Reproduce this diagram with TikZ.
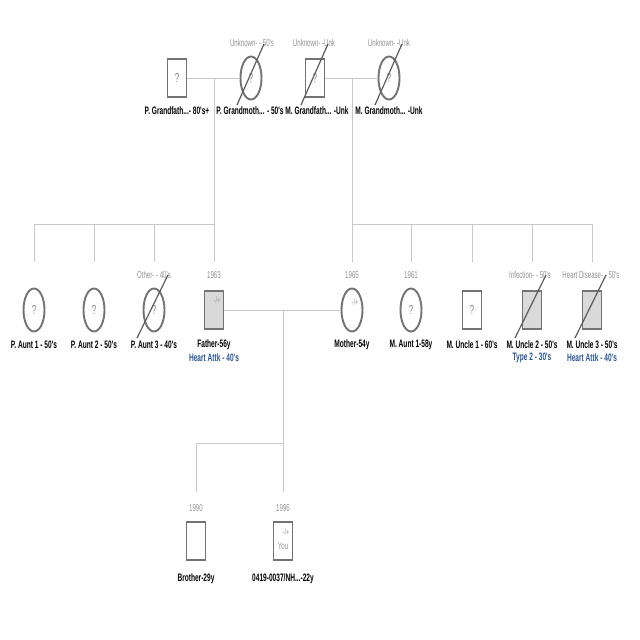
\documentclass[tikz,border=0pt]{standalone}
\usepackage{fontspec}
\setmainfont{Liberation Sans}
\newfontfamily\nf[FakeStretch=0.61]{Liberation Sans}
\usetikzlibrary{shapes.geometric}
\definecolor{connc}{HTML}{C8C8C8}
\definecolor{edgec}{HTML}{737373}
\definecolor{fillg}{HTML}{D9D9D9}
\definecolor{gtext}{HTML}{939393}
\definecolor{qtext}{HTML}{888888}
\definecolor{btext}{HTML}{2B5797}
\tikzset{
  malebox/.style={draw=edgec, line width=1.9pt, rectangle, minimum width=19pt, minimum height=38pt, inner sep=0pt, text=qtext, font=\nf\fontsize{13}{14}\selectfont},
  femalebox/.style={draw=edgec, line width=1.9pt, ellipse, minimum width=21pt, minimum height=43pt, inner sep=0pt, text=qtext, font=\nf\fontsize{13}{14}\selectfont},
  aff/.style={fill=fillg},
  namelab/.style={font=\nf\bfseries\fontsize{10.8}{12}\selectfont, text=black, inner sep=0pt},
  notelab/.style={font=\nf\fontsize{10}{12}\selectfont, text=gtext, inner sep=0pt},
  dxlab/.style={font=\nf\bfseries\fontsize{10.8}{12}\selectfont, text=btext, inner sep=0pt},
  smalllab/.style={font=\nf\fontsize{9}{10}\selectfont, text=gtext, inner sep=0pt},
  connline/.style={draw=connc, line width=0.9pt},
  slashline/.style={draw=edgec!80!black, line width=1.2pt},
}
\begin{document}
\begin{tikzpicture}[x=1pt,y=-1pt]
\fill[white] (0,0) rectangle (640,640);
\useasboundingbox (0,0) rectangle (640,640);

% ---------- coordinates for connectors ----------
\coordinate (pdesc) at (214,78);
\coordinate (pbarR) at (214,224);
\coordinate (pbarL) at (34,224);
\coordinate (mdesc) at (352,78);
\coordinate (mbarL) at (352,224);
\coordinate (mbarR) at (592,224);
\foreach \n/\x in {pa1/34,pa2/94,pa3/154,fa/214,mo/352,ma1/411,mu1/472,mu2/532,mu3/592}{
  \coordinate (\n bar) at (\x,224);
  \coordinate (\n end) at (\x,262);
}
\coordinate (cdesc) at (283,310);
\coordinate (cbarR) at (283,443);
\coordinate (cbarL) at (196,443);
\coordinate (brend) at (196,492);
\coordinate (youend) at (283,492);

% ---------- connectors ----------
\draw[connline] (pdesc) -- (faend);
\draw[connline] (pbarL) -- (pbarR);
\draw[connline] (mdesc) -- (moend);
\draw[connline] (mbarL) -- (mbarR);
\foreach \n in {pa1,pa2,pa3,ma1,mu1,mu2,mu3}{
  \draw[connline] (\n bar) -- (\n end);
}
\draw[connline] (cdesc) -- (youend);
\draw[connline] (cbarL) -- (cbarR);
\draw[connline] (cbarL) -- (brend);

% ---------- grandparents ----------
\node[malebox] (pgf) at (177,78) {?};
\node[femalebox] (pgm) at (251,78) {?};
\node[malebox] (mgf) at (315,78) {?};
\node[femalebox] (mgm) at (389,78) {?};
\draw[connline] (pgf.east) -- (pgm.west);
\draw[connline] (mgf.east) -- (mgm.west);

\node[namelab] (pgfl) at (177,111) {P. Grandfath...- 80's+};
\node[namelab] (pgml) at (250,111) {P. Grandmoth... - 50's};
\node[namelab] (mgfl) at (317,111) {M. Grandfath... -Unk};
\node[namelab] (mgml) at (389,111) {M. Grandmoth... -Unk};
\node[notelab] (pgmn) at (252,43) {Unknown- - 50's};
\node[notelab] (mgfn) at (314,43) {Unknown- -Unk};
\node[notelab] (mgmn) at (389,43) {Unknown- -Unk};

% ---------- parents' generation ----------
\node[femalebox] (pa1) at (34,310) {?};
\node[femalebox] (pa2) at (94,310) {?};
\node[femalebox] (pa3) at (154,310) {?};
\node[malebox,aff] (fa) at (214,310) {};
\node[femalebox] (mo) at (352,310) {};
\node[femalebox] (ma1) at (411,310) {?};
\node[malebox] (mu1) at (472,310) {?};
\node[malebox,aff] (mu2) at (532,310) {};
\node[malebox,aff] (mu3) at (592,310) {};
\draw[connline] (fa.east) -- (mo.west);

\node[smalllab] (fapm) at (217,300) {-/+};
\node[smalllab] (mopm) at (355,302) {-/+};

\node[namelab] (pa1l) at (34,345) {P. Aunt 1 - 50's};
\node[namelab] (pa2l) at (94,345) {P. Aunt 2 - 50's};
\node[namelab] (pa3l) at (154,345) {P. Aunt 3 - 40's};
\node[namelab] (fal) at (214,345) {Father-56y};
\node[dxlab] (fad) at (214,358) {Heart Attk - 40's};
\node[namelab] (mol) at (352,345) {Mother-54y};
\node[namelab] (ma1l) at (411,345) {M. Aunt 1-58y};
\node[namelab] (mu1l) at (472,345) {M. Uncle 1 - 60's};
\node[namelab] (mu2l) at (532,345) {M. Uncle 2 - 50's};
\node[dxlab] (mu2d) at (532,358) {Type 2 - 30's};
\node[namelab] (mu3l) at (592,345) {M. Uncle 3 - 50's};
\node[dxlab] (mu3d) at (592,358) {Heart Attk - 40's};

\node[notelab] (pa3n) at (154,275) {Other- - 40's};
\node[notelab] (fan) at (214,275) {1963};
\node[notelab] (mon) at (352,275) {1965};
\node[notelab] (ma1n) at (411,275) {1961};
\node[notelab] (mu2n) at (530,275) {Infection- - 50's};
\node[notelab] (mu3n) at (591,275) {Heart Disease- - 50's};

% ---------- children ----------
\node[malebox] (br) at (196,541) {};
\node[malebox] (you) at (283,541) {};
\node[smalllab] (youpm) at (286,532) {-/+};
\node[notelab] (youl) at (283,546) {You};
\node[notelab] (brn) at (196,508) {1990};
\node[notelab] (youn) at (283,508) {1996};
\node[namelab] (brl) at (196,579) {Brother-29y};
\node[namelab] (youll) at (283,579) {0419-0037/NH...-22y};

% ---------- deceased slashes ----------
\foreach \n in {pgm,mgf,mgm}{
  \draw[slashline] ([shift={(-14,27)}]\n.center) -- ([shift={(13,-34)}]\n.center);
}
\foreach \n in {pa3,mu2,mu3}{
  \draw[slashline] ([shift={(-17,28)}]\n.center) -- ([shift={(14,-35)}]\n.center);
}
\end{tikzpicture}
\end{document}
